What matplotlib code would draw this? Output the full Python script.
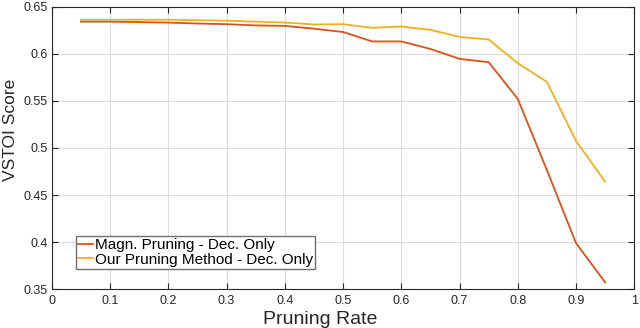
import matplotlib.pyplot as plt
import numpy as np

plt.rcParams['font.family'] = ['Liberation Sans', 'DejaVu Sans']

rate = [0.05, 0.1, 0.15, 0.2, 0.25, 0.3, 0.35, 0.4, 0.45, 0.5,
        0.55, 0.6, 0.65, 0.7, 0.75, 0.8, 0.85, 0.9, 0.95]
magn = [0.634, 0.634, 0.6335, 0.633, 0.632, 0.6313, 0.630, 0.6295, 0.6265, 0.623,
        0.613, 0.613, 0.605, 0.5945, 0.591, 0.552, 0.4765, 0.399, 0.3574]
ours = [0.636, 0.636, 0.636, 0.636, 0.6355, 0.635, 0.634, 0.633, 0.631, 0.6313,
        0.6274, 0.6288, 0.6253, 0.6178, 0.615, 0.590, 0.570, 0.5074, 0.4642]
labels = ["Magn. Pruning - Dec. Only", "Our Pruning Method - Dec. Only"]

fig = plt.figure(figsize=(6.4, 3.28), dpi=100)
ax = fig.add_axes([0.081, 0.118, 0.910, 0.862])

ax.plot(rate, magn, color="#D95319", lw=1.3, label=labels[0])
ax.plot(rate, ours, color="#EDB120", lw=1.3, label=labels[1])

ax.set_xlim(0, 1)
ax.set_ylim(0.35, 0.65)
ax.set_xticks(np.arange(0, 1.01, 0.1))
ax.set_xticklabels(["0", "0.1", "0.2", "0.3", "0.4", "0.5", "0.6", "0.7", "0.8", "0.9", "1"])
ax.set_yticks(np.arange(0.35, 0.651, 0.05))
ax.set_yticklabels(["0.35", "0.4", "0.45", "0.5", "0.55", "0.6", "0.65"])
ax.grid(True, color="#dcdcdc", lw=0.8)
ax.tick_params(direction="in", top=True, right=True, labelsize=9,
               colors="#262626", length=4, width=0.8)
ax.tick_params(axis="x", pad=4)
ax.tick_params(axis="y", pad=3)
for s in ax.spines.values():
    s.set_color("#262626")
    s.set_linewidth(0.8)

ax.set_xlabel("Pruning Rate", fontsize=14, color="#262626", labelpad=1)
ax.xaxis.set_label_coords(0.46, -0.075)
ax.set_ylabel("VSTOI Score", fontsize=12.5, color="#262626")
ax.yaxis.set_label_coords(-0.058, 0.564)

ax.legend(loc="lower left", bbox_to_anchor=(0.041, 0.072), fontsize=11,
          handlelength=1.0, handletextpad=0.1, borderpad=0.15, labelspacing=0.05,
          fancybox=False, edgecolor="#6e6e6e", framealpha=1, borderaxespad=0)

fig.savefig("out.png", dpi=100)
